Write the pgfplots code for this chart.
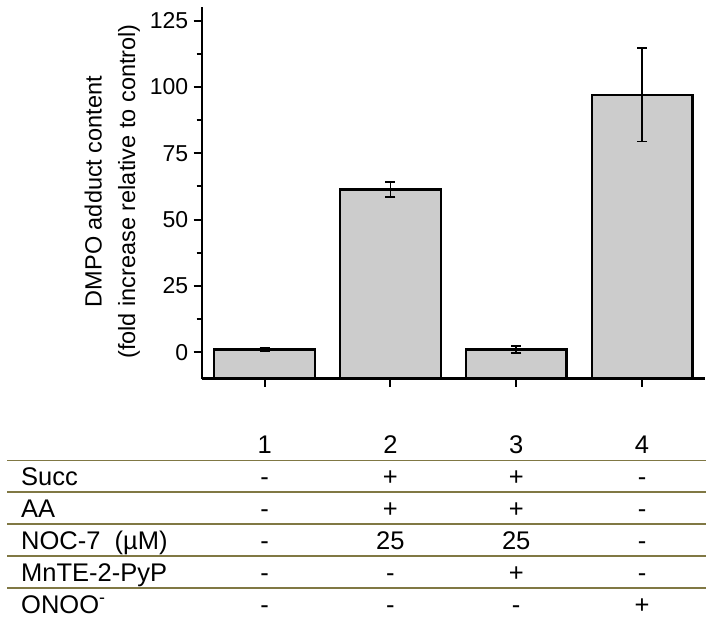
\documentclass[border=0pt]{standalone}
\usepackage{fontspec}
\setmainfont{Liberation Sans}
\usepackage{pgfplots}
\pgfplotsset{compat=1.18}
\definecolor{tabline}{RGB}{128,120,68}
\definecolor{barfill}{RGB}{204,204,204}
\begin{document}
\begin{tikzpicture}[x=1pt,y=1pt]
\useasboundingbox (0,0) rectangle (714,621);
\begin{axis}[
 at={(201.7pt,242.3pt)}, anchor=south west,
 scale only axis, width=503.3pt, height=371.3pt,
 xmin=0.5, xmax=4.5, ymin=-10, ymax=130,
 y coord trafo/.code={\pgfmathparse{#1+10}},
 y coord inv trafo/.code={\pgfmathparse{#1-10}},
 axis lines*=left, axis line style={line width=2.4pt, -},
 xtick={1,2,3,4}, xticklabels={},
 ytick={0,25,50,75,100,125}, minor y tick num=1,
 tick align=outside, major tick length=8pt, minor tick length=5pt,
 every tick/.style={black, line width=2pt},
 yticklabel style={font=\fontsize{23}{26}\selectfont, xshift=-2pt},
 /pgf/number format/assume math mode=true,
 clip=false,
]
\addplot[ybar, bar width=0.8, fill=barfill, draw=black, line width=2.4pt,
 error bars/.cd, y dir=both, y explicit,
 error bar style={line width=1.6pt, black},
 error mark options={rotate=90, mark size=5pt, line width=1.6pt, black}]
 coordinates {(1,1) +- (0,0.8) (2,61.3) +- (0,2.9) (3,1.0) +- (0,1.3) (4,97) +- (0,17.6)};
\end{axis}
\node[rotate=90, anchor=base, inner sep=0pt, font=\fontsize{23.5}{28}\selectfont] at (101.7,429.5) {DMPO adduct content};
\node[rotate=90, anchor=base, inner sep=0pt, font=\fontsize{23.5}{28}\selectfont] at (135,429.5) {(fold increase relative to control)};
% table
\begin{scope}[every node/.style={inner sep=0pt, font=\fontsize{25.5}{28}\selectfont}]
\foreach \yy in {160.3,129.3,97.3,65.3,33.3} \draw[tabline, line width=1.6pt] (7,\yy) -- (706,\yy);
\node[anchor=base] at (264.6,167.5) {1};
\node[anchor=base] at (390.4,167.5) {2};
\node[anchor=base] at (516.2,167.5) {3};
\node[anchor=base] at (642.0,167.5) {4};
\node[anchor=base west] at (21,135.5) {Succ};
\node[anchor=base west] at (21,103.5) {AA};
\node[anchor=base west] at (21,72) {NOC-7~~(µM)};
\node[anchor=base west] at (21,40) {MnTE-2-PyP};
\node[anchor=base west] at (21,8) {ONOO\textsuperscript{-}};
% row Succ
\node[anchor=base] at (264.6,135.5) {-};
\node[anchor=base] at (390.4,135.5) {+};
\node[anchor=base] at (516.2,135.5) {+};
\node[anchor=base] at (642.0,135.5) {-};
% AA
\node[anchor=base] at (264.6,103.5) {-};
\node[anchor=base] at (390.4,103.5) {+};
\node[anchor=base] at (516.2,103.5) {+};
\node[anchor=base] at (642.0,103.5) {-};
% NOC
\node[anchor=base] at (264.6,72) {-};
\node[anchor=base] at (390.4,72) {25};
\node[anchor=base] at (516.2,72) {25};
\node[anchor=base] at (642.0,72) {-};
% MnTE
\node[anchor=base] at (264.6,40) {-};
\node[anchor=base] at (390.4,40) {-};
\node[anchor=base] at (516.2,40) {+};
\node[anchor=base] at (642.0,40) {-};
% ONOO
\node[anchor=base] at (264.6,8) {-};
\node[anchor=base] at (390.4,8) {-};
\node[anchor=base] at (516.2,8) {-};
\node[anchor=base] at (642.0,8) {+};
\end{scope}
\end{tikzpicture}
\end{document}
